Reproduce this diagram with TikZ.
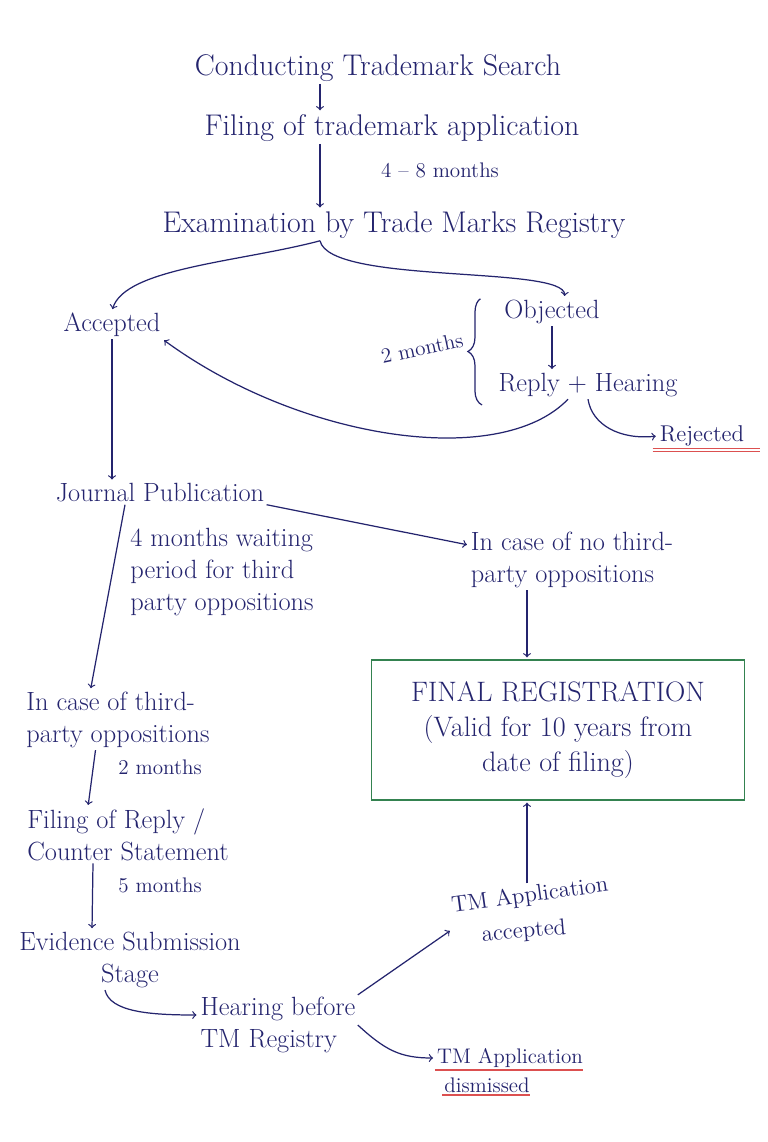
\documentclass[tikz,border=0pt]{standalone}
\usepackage{tikz}
\usetikzlibrary{positioning, arrows, calc, decorations.pathreplacing}

\definecolor{ink}{RGB}{36,36,110}
\definecolor{boxgreen}{RGB}{52,130,80}
\definecolor{redpen}{RGB}{220,80,80}

\tikzset{
  txt/.style={text=ink, inner sep=1pt, align=center},
  big/.style={txt, font=\fontsize{17}{20}\selectfont},
  mid/.style={txt, font=\fontsize{15}{18}\selectfont},
  sml/.style={txt, font=\fontsize{12}{14}\selectfont},
  underl/.style={draw=redpen, line width=0.8pt},
}

\begin{document}
\begin{tikzpicture}[x=0.2mm, y=-0.2mm, shorten >=1pt, line width=0.7pt, color=ink]
  \fill[white] (0,0) rectangle (768,1142);
  \useasboundingbox (0,0) rectangle (768,1142);

  % guide columns for the straight arrows
  \coordinate (spine) at (320,0);
  \coordinate (col) at (527,0);

  % application and examination
  \node[big] (search) at (378,68) {Conducting Trademark Search};
  \node[big] (filing) at (392,128) {Filing of trademark application};
  \node[sml] (t48) at (440,170) {4 -- 8 months};
  \node[big] (exam) at (394,225) {Examination by Trade Marks Registry};

  % outcome of the examination
  \node[mid] (acc) at (112,325) {Accepted};
  \node[mid] (obj) at (552,312) {Objected};
  \node[sml, rotate=12] (m2a) at (422,348) {2 months};
  \node[mid] (reply) at (588,385) {Reply + Hearing};
  \node[sml, font=\fontsize{13}{15}\selectfont] (rej) at (702,436) {Rejected};

  % publication
  \node[mid] (journal) at (160,493) {Journal Publication};
  \node[mid, align=left] (wait) at (222,572) {4 months waiting\\period for third\\party oppositions};
  \node[mid, align=left] (nocase) at (572,560) {In case of no third-\\party oppositions};

  \node[draw=boxgreen, line width=1pt, minimum width=74.6mm, minimum height=28mm,
        txt, font=\fontsize{16}{20}\selectfont] (final) at (558,730)
        {FINAL REGISTRATION\\(Valid for 10 years from\\date of filing)};

  % opposition branch
  \node[mid, align=left] (third) at (118,720) {In case of third-\\party oppositions};
  \node[sml] (m2b) at (160,767) {2 months};
  \node[mid, align=left] (counter) at (128,835) {Filing of Reply /\\Counter Statement};
  \node[sml] (m5) at (160,885) {5 months};
  \node[mid] (evid) at (130,960) {Evidence Submission\\Stage};
  \node[mid, align=left] (hear) at (278,1025) {Hearing before\\TM Registry};
  \node[sml, font=\fontsize{13}{15}\selectfont, rotate=8] (tmacc) at (530,896) {TM Application};
  \node[sml, font=\fontsize{13}{15}\selectfont, rotate=5] (accd) at (524,932) {accepted};
  \node[sml] (tmdis) at (510,1058) {TM Application};
  \node[sml] (dism) at (487,1085) {dismissed};

  % connectors
  \draw[->] (search.south -| spine) -- (filing.north -| spine);
  \draw[->] (filing.south -| spine) -- (exam.north -| spine);
  \draw[->] (exam.south -| spine) .. controls (240,262) and (125,268) .. (acc.north);
  \draw[->] (exam.south -| spine) .. controls (330,285) and (566,265) .. ([xshift=2.5mm]obj.north);
  \draw[decorate, decoration={brace, amplitude=8pt}] (482,405) -- (482,298);
  \draw[->] (obj.south) -- (obj.south |- reply.north);
  \draw[->] ([xshift=-4mm]reply.south) .. controls (500,470) and (300,440) .. (acc.south east);
  \draw[->] (reply.south) .. controls (592,425) and (620,440) .. (rej.west);
  \draw[->] (acc.south) -- (acc.south |- journal.north);
  \draw[->] (journal.south east) -- ([yshift=3mm]nocase.west);
  \draw[->] ([xshift=-7mm]journal.south) -- ([xshift=-5.5mm]third.north);
  \draw[->] (nocase.south -| col) -- (final.north -| col);
  \draw[->] ([xshift=-4.5mm]third.south) -- ([xshift=-8mm]counter.north);
  \draw[->] ([xshift=-7mm]counter.south) -- ([xshift=-7.6mm]evid.north);
  \draw[->] ([xshift=-5mm]evid.south) .. controls (110,1012) and (150,1015) .. ([yshift=2mm]hear.west);
  \draw[->] (hear.north east) -- ([yshift=-2mm]tmacc.south west);
  \draw[->] (hear.east) .. controls (385,1050) and (400,1058) .. (tmdis.west);
  \draw[->] (tmacc.north -| col) -- (final.south -| col);

  % red underlines
  \draw[underl] ([xshift=-1mm]rej.south west) -- ([xshift=3mm]rej.south east);
  \draw[underl] ([xshift=-1mm,yshift=-1.5pt]rej.south west) -- ([xshift=3mm,yshift=-1.5pt]rej.south east);
  \draw[underl] (tmdis.south west) -- (tmdis.south east);
  \draw[underl] (dism.south west) -- (dism.south east);
\end{tikzpicture}
\end{document}
